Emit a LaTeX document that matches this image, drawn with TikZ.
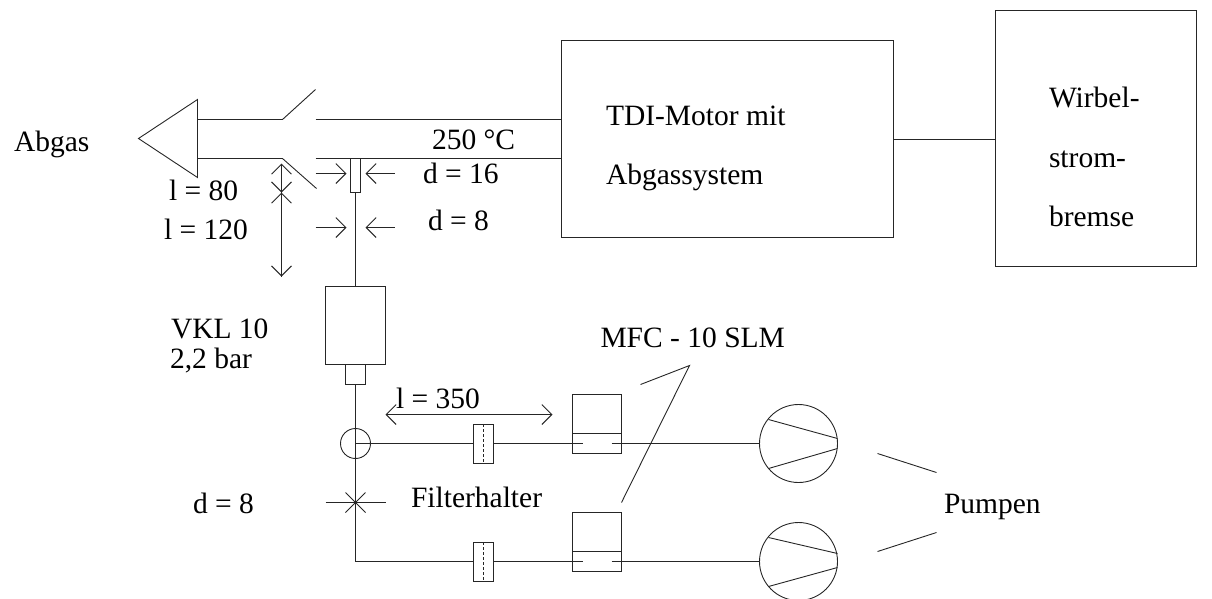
\documentclass[tikz,border=0pt]{standalone}
\usepackage{fontspec}
\setmainfont{Liberation Serif}
\usetikzlibrary{arrows.meta}
\tikzset{
  ln/.style={line width=0.9pt,draw=black!85},
  bx/.style={ln,rectangle,inner sep=0pt,outer sep=0pt},
  lab/.style={anchor=base west,inner sep=0pt,outer sep=0pt,font=\fontsize{29.5}{34}\selectfont},
  opn/.style={ln,-{Straight Barb[length=10pt,width=20pt,line width=0.9pt,harpoon=false]}},
  opnb/.style={ln,{Straight Barb[length=10pt,width=20pt,line width=0.9pt]}-{Straight Barb[length=10pt,width=20pt,line width=0.9pt]}},
  pump/.style={ln,circle,inner sep=0pt,outer sep=0pt,minimum size=78pt},
}
\begin{document}
\begin{tikzpicture}[x=1pt,y=-1pt]
\useasboundingbox (0,0) rectangle (1212,598);
\begin{scope}[shift={(0.5,0.5)}]
% main boxes
\node[bx,minimum width=332pt,minimum height=197pt] (motor) at (727,138.5) {};
\node[bx,minimum width=201pt,minimum height=256pt] (brake) at (1095.5,138) {};
\draw[ln] (893,139) -- (995,139);
% exhaust
\coordinate (tip) at (138,138);
\coordinate (tt) at (197,99);
\coordinate (tb) at (197,177);
\draw[ln] (tip) -- (tt) -- (tb) -- cycle;
\coordinate (ka) at (282,119);
\coordinate (kb) at (282,158);
\coordinate (ra) at (315,119);
\coordinate (rb) at (315,158);
\draw[ln] (197,119) -- (ka) -- (315,89);
\draw[ln] (197,158) -- (kb) -- (316,188);
\draw[ln] (ra) -- (561,119);
\draw[ln] (rb) -- (561,158);
% probe
\node[bx,minimum width=10pt,minimum height=34pt] (probe) at (355,175) {};
\node[bx,minimum width=60pt,minimum height=78pt] (vkl) at (355,325) {};
\node[bx,minimum width=20pt,minimum height=20pt] (neck) at (355,374) {};
\draw[ln] (probe.south) -- (vkl.north);
% dimension arrows
\draw[opn] (315,173) -- (346,173);
\draw[opn] (394,173) -- (365,173);
\draw[opn] (315,227) -- (346,227);
\draw[opn] (394,227) -- (365,227);
\coordinate (da) at (281,163);
\coordinate (db) at (281,192);
\coordinate (dc) at (281,276);
\draw[opn] (db) -- (da);
\draw[opn] (da) -- (db);
\draw[opn] (dc) -- (db);
\draw[opn] (db) -- (dc);
% sample lines
\coordinate (j1) at (355,443);
\coordinate (j2) at (355,561);
\draw[ln] (neck.south) -- (j2);
\node[ln,draw,circle,inner sep=0pt,outer sep=0pt,minimum size=30pt] (tee) at (j1) {};
% branches
\node[bx,minimum width=20pt,minimum height=39pt] (f1) at (483,443) {};
\node[bx,minimum width=20pt,minimum height=39pt] (f2) at (483,561) {};
\draw[ln,densely dashed] (f1.north) -- (f1.south);
\draw[ln,densely dashed] (f2.north) -- (f2.south);
\node[bx,minimum width=49pt,minimum height=59pt] (m1) at (596.5,423.5) {};
\node[bx,minimum width=49pt,minimum height=59pt] (m2) at (596.5,541.5) {};
\draw[ln] (572,433) -- (621,433);
\draw[ln] (572,551) -- (621,551);
\node[pump] (p1) at (798,443) {};
\node[pump] (p2) at (798,561) {};
\draw[ln] (j1) -- (f1.west);
\draw[ln] (f1.east) -- (582,443);
\draw[ln] (611,443) -- (p1.west);
\draw[ln] (j2) -- (f2.west);
\draw[ln] (f2.east) -- (582,561);
\draw[ln] (611,561) -- (p2.west);
% pump vanes
\draw[ln] (768,419) -- (837,438);
\draw[ln] (768,468) -- (837,448);
\draw[ln] (768,537) -- (837,553);
\draw[ln] (768,586) -- (837,567);
% l=350
\coordinate (la) at (385,414);
\coordinate (lb) at (552,414);
\draw[opnb] (la) -- (lb);
% cross
\coordinate (x0) at (355,502);
\draw[ln] (325,502) -- (385,502);
\draw[ln] (345,492) -- (365,512);
\draw[ln] (345,512) -- (365,492);
% leaders
\draw[ln] (621,502) -- (689,365) -- (640,384);
\draw[ln] (877,453) -- (936,472);
\draw[ln] (877,551) -- (936,532);
\end{scope}
% labels
\node[lab] (t1) at (14,151) {Abgas};
\node[lab] (t2) at (432,149) {250 °C};
\node[lab] (t3) at (423,183) {d = 16};
\node[lab] (t4) at (428,230) {d = 8};
\node[lab] (t5) at (169,200) {l = 80};
\node[lab] (t6) at (164,239) {l = 120};
\node[lab] (t7) at (171,338) {VKL 10};
\node[lab] (t8) at (170,368) {2,2 bar};
\node[lab] (t9) at (600.5,347) {MFC - 10 SLM};
\node[lab] (t10) at (396,408) {l = 350};
\node[lab] (t11) at (411,507) {Filterhalter};
\node[lab] (t12) at (193,513) {d = 8};
\node[lab] (t13) at (944,513) {Pumpen};
\node[lab] (t14) at (606,125) {TDI-Motor mit};
\node[lab] (t15) at (606,184) {Abgassystem};
\node[lab] (t16) at (1049,107) {Wirbel-};
\node[lab] (t17) at (1049,167) {strom-};
\node[lab] (t18) at (1049,226) {bremse};
\end{tikzpicture}
\end{document}
